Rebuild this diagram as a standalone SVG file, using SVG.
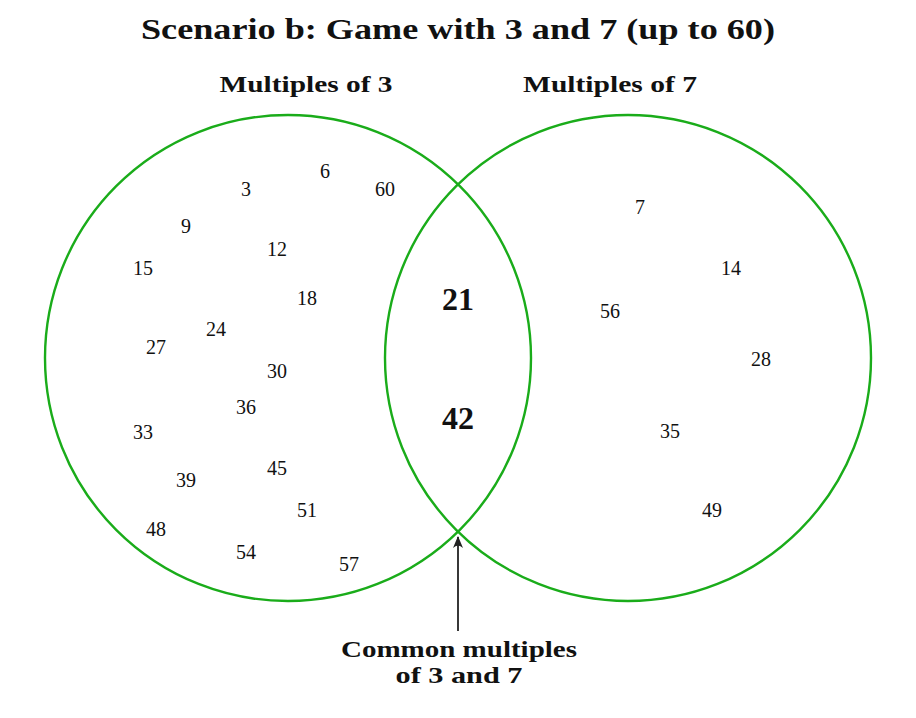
<svg xmlns="http://www.w3.org/2000/svg" width="916" height="718" viewBox="0 0 916 718">
<defs>
<style>
text{font-family:"Liberation Serif","DejaVu Serif",serif;fill:#111;text-anchor:middle}
.title{font-size:29px;font-weight:bold}
.lbl{font-size:24px;font-weight:bold}
.num{font-size:20px}
.big{font-size:32px;font-weight:bold}
.set{fill:none;stroke:#1aac1a;stroke-width:2.4}
.conn{stroke:#222;stroke-width:1.8;fill:none}
</style>
<marker id="ah" viewBox="0 0 12 10" refX="11" refY="5" markerWidth="12" markerHeight="10" markerUnits="userSpaceOnUse" orient="auto">
<path d="M0,0 Q5,5 0,10 L12,5 Z" fill="#222"/>
</marker>
</defs>
<rect width="916" height="718" fill="#fff"/>
<text id="title" class="title" x="458" y="39" textLength="634" lengthAdjust="spacingAndGlyphs">Scenario b: Game with 3 and 7 (up to 60)</text>
<g id="setA">
<circle class="set" cx="288" cy="358" r="243"/>
<text class="lbl" x="306" y="92" textLength="173" lengthAdjust="spacingAndGlyphs">Multiples of 3</text>
<g class="num-group">
<text class="num" x="246" y="196">3</text>
<text class="num" x="325" y="178">6</text>
<text class="num" x="385" y="196">60</text>
<text class="num" x="186" y="233">9</text>
<text class="num" x="277" y="256">12</text>
<text class="num" x="143" y="275">15</text>
<text class="num" x="307" y="305">18</text>
<text class="num" x="216" y="336">24</text>
<text class="num" x="156" y="354">27</text>
<text class="num" x="277" y="378">30</text>
<text class="num" x="246" y="414">36</text>
<text class="num" x="143" y="439">33</text>
<text class="num" x="277" y="475">45</text>
<text class="num" x="186" y="487">39</text>
<text class="num" x="307" y="517">51</text>
<text class="num" x="156" y="536">48</text>
<text class="num" x="246" y="559">54</text>
<text class="num" x="349" y="571">57</text>
</g>
</g>
<g id="setB">
<circle class="set" cx="628" cy="358" r="243"/>
<text class="lbl" x="610" y="92" textLength="174" lengthAdjust="spacingAndGlyphs">Multiples of 7</text>
<text class="num" x="640" y="214">7</text>
<text class="num" x="731" y="275">14</text>
<text class="num" x="610" y="318">56</text>
<text class="num" x="761" y="366">28</text>
<text class="num" x="670" y="438">35</text>
<text class="num" x="712" y="517">49</text>
</g>
<g id="intersection">
<text class="big" x="458" y="310">21</text>
<text class="big" x="458" y="429">42</text>
</g>
<g id="connectors">
<line class="conn" x1="458" y1="631" x2="458" y2="537" marker-end="url(#ah)"/>
</g>
<g id="callout">
<text class="lbl" x="459" y="657" textLength="236" lengthAdjust="spacingAndGlyphs">Common multiples</text>
<text class="lbl" x="459" y="683" textLength="127" lengthAdjust="spacingAndGlyphs">of 3 and 7</text>
</g>
</svg>
